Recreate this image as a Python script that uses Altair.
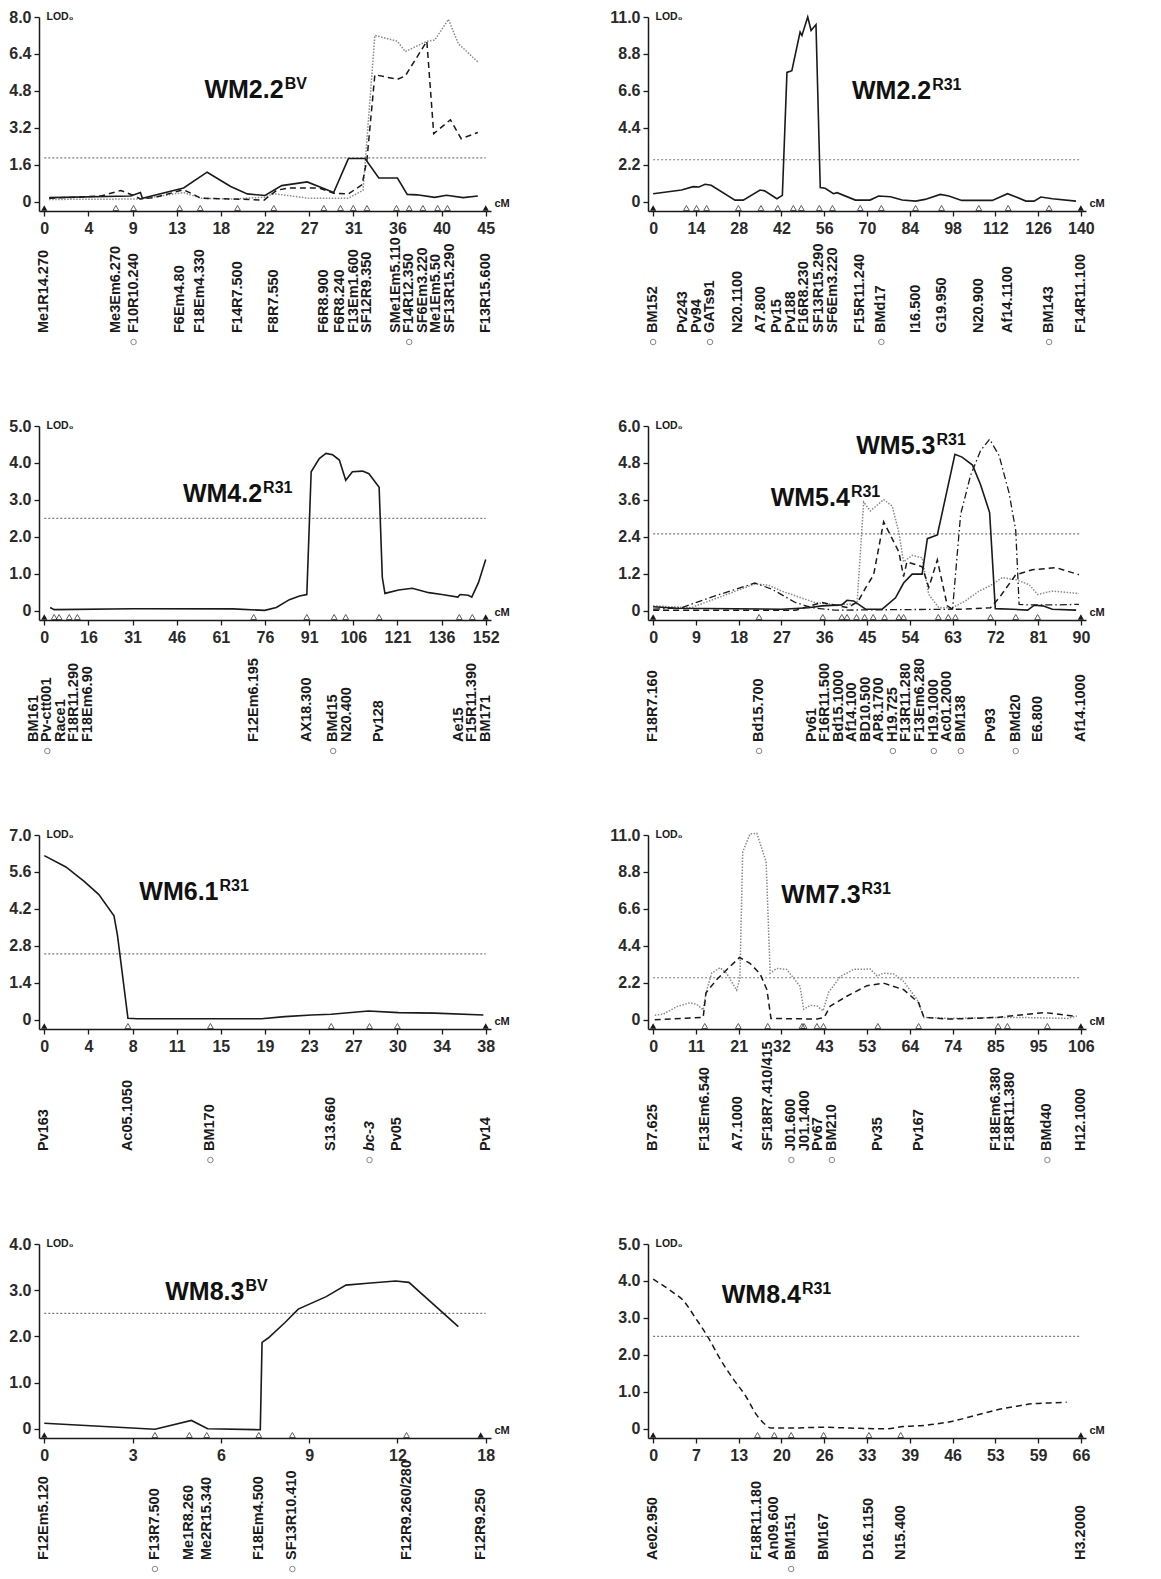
import altair as alt
import pandas as pd

FONT = "Liberation Sans"
INK = "#1a1a1a"

# ---------------- WM2.2 BV ----------------
p1_solid_x = [0.5, 8.8, 9.8, 10.0, 14.2, 16.6, 19.0, 20.7, 22.5, 24.2, 26.8, 29.5, 31.0, 32.7, 34.1, 36.0, 37.0, 38.0, 39.8, 41.0, 42.7, 44.2]
p1_solid_y = [0.18, 0.25, 0.40, 0.15, 0.60, 1.28, 0.66, 0.34, 0.27, 0.70, 0.86, 0.40, 1.87, 1.87, 1.03, 1.03, 0.32, 0.30, 0.19, 0.28, 0.18, 0.25]
p1_dash_x = [0.5, 5.8, 7.8, 9.2, 9.8, 11.2, 14.2, 16.0, 19.3, 22.4, 23.7, 25.0, 28.0, 29.5, 31.0, 32.4, 32.9, 33.7, 36.0, 36.8, 39.0, 39.7, 41.4, 42.5, 44.2]
p1_dash_y = [0.15, 0.25, 0.49, 0.25, 0.12, 0.18, 0.52, 0.15, 0.12, 0.07, 0.50, 0.60, 0.60, 0.37, 0.34, 0.74, 1.85, 5.50, 5.30, 5.45, 6.95, 2.95, 3.55, 2.73, 3.00]
p1_dot_x = [0.5, 9.8, 14.2, 16.0, 19.3, 22.5, 23.4, 27.0, 31.0, 32.5, 33.7, 36.0, 36.8, 39.0, 39.8, 41.2, 42.2, 44.2]
p1_dot_y = [0.10, 0.12, 0.40, 0.15, 0.12, 0.20, 0.35, 0.15, 0.15, 0.50, 7.20, 6.95, 6.50, 6.95, 7.00, 7.90, 6.85, 6.05]
p1_mk_pos = [0, 7.3, 9.1, 13.8, 15.9, 19.7, 23.4, 28.5, 30.2, 31.5, 32.9, 35.9, 37.2, 38.6, 40.1, 41.1, 45]
p1_mk_name = ["Me1R14.270", "Me3Em6.270", "F10R10.240", "F6Em4.80", "F18Em4.330", "F14R7.500", "F8R7.550", "F6R8.900", "F6R8.240", "F13Em1.600", "SF12R9.350", "SMe1Em5.110", "F14R12.350", "SF6Em3.220", "Me1Em5.50", "SF13R15.290", "F13R15.600"]
p1_circled = ["F10R10.240", "F14R12.350"]
p1_xlabels = ["0", "4", "9", "13", "18", "22", "27", "31", "36", "40", "45"]

# ---------------- WM2.2 R31 ----------------
p2_solid_x = [0, 9.3, 13.1, 15.0, 17.0, 19.0, 26.8, 29.5, 35.0, 36.5, 40.5, 42.3, 43.8, 45.4, 48.1, 48.7, 50.6, 51.7, 53.3, 54.7, 56.3, 59.0, 60.2, 66.2, 71.0, 73.8, 77.7, 81.5, 85.9, 89.0, 94.0, 96.8, 101.0, 111.0, 116.0, 118.6, 122.0, 124.7, 126.9, 130.7, 138.4]
p2_solid_y = [0.48, 0.70, 0.90, 0.88, 1.04, 0.98, 0.10, 0.10, 0.70, 0.65, 0.18, 0.38, 7.70, 7.80, 10.10, 9.90, 11.00, 10.20, 10.55, 0.84, 0.80, 0.48, 0.54, 0.10, 0.10, 0.34, 0.30, 0.10, 0.04, 0.14, 0.44, 0.34, 0.08, 0.08, 0.48, 0.30, 0.04, 0.04, 0.28, 0.18, 0.04]
p2_mk_pos = [0, 10.9, 14.2, 17.5, 27.9, 35.3, 40.8, 45.9, 48.5, 54.4, 58.7, 67.8, 74.7, 85.9, 94.4, 106.6, 116.2, 129.6, 140]
p2_mk_name = ["BM152", "Pv243", "Pv94", "GATs91", "N20.1100", "A7.800", "Pv15", "Pv188", "F16R8.230", "SF13R15.290", "SF6Em3.220", "F15R11.240", "BMd17", "I16.500", "G19.950", "N20.900", "Af14.1100", "BM143", "F14R11.100"]
p2_circled = ["BM152", "GATs91", "BMd17", "BM143"]
p2_xlabels = ["0", "14", "28", "42", "56", "70", "84", "98", "112", "126", "140"]

# ---------------- WM4.2 R31 ----------------
p3_solid_x = [2.0, 3.4, 30.8, 65.0, 75.9, 79.9, 84.4, 87.9, 90.4, 91.9, 94.7, 97.0, 99.3, 101.6, 103.8, 106.1, 109.6, 111.8, 115.3, 116.4, 117.3, 122.0, 126.7, 132.4, 136.9, 142.4, 143.2, 146.0, 147.2, 149.5, 152.0]
p3_solid_y = [0.09, 0.03, 0.055, 0.05, 0.01, 0.09, 0.30, 0.40, 0.44, 3.76, 4.12, 4.26, 4.22, 4.08, 3.53, 3.76, 3.78, 3.71, 3.34, 0.90, 0.47, 0.56, 0.61, 0.49, 0.44, 0.37, 0.44, 0.42, 0.37, 0.76, 1.39]
p3_mk_pos = [0, 3.4, 5.1, 8.6, 11.4, 72.1, 90.4, 99.8, 103.8, 115.3, 142.9, 147.4, 152]
p3_mk_name = ["BM161", "Pv-ctt001", "Race1", "F18R11.290", "F18Em6.90", "F12Em6.195", "AX18.300", "BMd15", "N20.400", "Pv128", "Ae15", "F15R11.390", "BM171"]
p3_circled = ["Pv-ctt001", "BMd15"]
p3_xlabels = ["0", "16", "31", "46", "61", "76", "91", "106", "121", "136", "152"]

# ---------------- WM5.3 / WM5.4 R31 ----------------
p4_solid_x = [0, 5, 27, 32.7, 35.5, 39.7, 40.8, 42.2, 44.7, 48.2, 51.0, 52.7, 54.5, 56.6, 57.7, 59.8, 63.5, 65.0, 67.2, 68.9, 70.8, 72.0, 75.6, 78.8, 80.2, 82.0, 84.0, 89.0]
p4_solid_y = [0.13, 0.08, 0.05, 0.10, 0.16, 0.19, 0.34, 0.32, 0.05, 0.05, 0.42, 0.90, 1.19, 1.19, 2.34, 2.46, 5.08, 4.99, 4.73, 4.09, 3.19, 0.07, 0.05, 0.02, 0.18, 0.16, 0.05, 0.02]
p4_dash_x = [0, 30, 35.5, 41.0, 43.2, 44.7, 46.4, 48.5, 51.7, 52.7, 53.4, 56.6, 58.0, 59.8, 61.9, 63.0, 65.0, 71.0, 72.8, 76.3, 79.8, 84.8, 89.6]
p4_dash_y = [0.02, 0.02, 0.27, 0.10, 0.32, 0.74, 1.17, 2.89, 1.91, 1.11, 1.59, 1.43, 0.76, 1.65, 0.16, 0.05, 0.05, 0.10, 0.42, 1.17, 1.33, 1.40, 1.17]
p4_dot_x = [0, 8.0, 21.4, 24.3, 27.0, 34.0, 38.3, 42.9, 44.3, 45.7, 48.5, 50.3, 51.7, 52.7, 54.5, 56.6, 58.0, 60.1, 63.0, 65.7, 68.6, 71.0, 73.5, 76.3, 79.1, 80.9, 84.0, 89.6]
p4_dot_y = [0.16, 0.10, 0.87, 0.83, 0.64, 0.27, 0.19, 0.23, 3.53, 3.24, 3.61, 3.40, 2.55, 1.59, 1.80, 1.72, 0.53, 0.10, 0.10, 0.32, 0.64, 0.82, 1.08, 1.01, 0.85, 0.53, 0.64, 0.56]
p4_dd_x = [0, 6.0, 13.0, 21.4, 25.0, 29.9, 33.4, 38.3, 63.0, 64.7, 66.8, 68.9, 70.8, 72.8, 74.9, 76.3, 77.0, 78.4, 84.8, 89.6]
p4_dd_y = [0.05, 0.10, 0.48, 0.90, 0.70, 0.27, 0.10, 0.02, 0.05, 3.13, 4.40, 5.20, 5.57, 5.04, 3.82, 2.60, 0.21, 0.19, 0.19, 0.21]
p4_mk_pos = [0, 22.3, 35.7, 39.7, 40.8, 42.8, 44.5, 46.3, 48.7, 51.7, 52.7, 60, 62.1, 63.6, 71, 76.3, 80.9, 90]
p4_mk_name = ["F18R7.160", "Bd15.700", "Pv61", "F16R11.500", "Bd15.1000", "Af14.100", "BD10.500", "AP8.1700", "H19.725", "F13R11.280", "F13Em6.280", "H19.1000", "Ac01.2000", "BM138", "Pv93", "BMd20", "E6.800", "Af14.1000"]
p4_circled = ["Bd15.700", "H19.725", "H19.1000", "BM138", "BMd20"]
p4_xlabels = ["0", "9", "18", "27", "36", "45", "54", "63", "72", "81", "90"]

# ---------------- WM6.1 R31 ----------------
p5_solid_x = [0, 1.86, 3.43, 4.7, 6.0, 6.3, 7.2, 8.0, 18.7, 20.7, 23.0, 24.7, 27.9, 30.5, 33.6, 37.8]
p5_solid_y = [6.22, 5.79, 5.24, 4.74, 3.94, 3.20, 0.06, 0.04, 0.04, 0.12, 0.18, 0.21, 0.33, 0.27, 0.25, 0.18]
p5_mk_pos = [0, 7.2, 14.3, 24.7, 28, 30.4, 38]
p5_mk_name = ["Pv163", "Ac05.1050", "BM170", "S13.660", "bc-3", "Pv05", "Pv14"]
p5_circled = ["BM170", "bc-3"]
p5_italic = ["bc-3"]
p5_xlabels = ["0", "4", "8", "11", "15", "19", "23", "27", "30", "34", "38"]

# ---------------- WM7.3 R31 ----------------
p6_dot_x = [0.4, 2.5, 5.8, 9.1, 10.8, 12.4, 13.1, 14.5, 16.6, 18.2, 20.7, 21.5, 22.2, 24.0, 25.7, 28.0, 29.0, 30.6, 33.1, 36.4, 37.3, 38.9, 40.6, 42.1, 43.5, 46.4, 49.7, 53.8, 55.5, 57.1, 59.6, 62.1, 65.4, 67.1, 73.7, 86.1, 90.3, 102.7, 105.0]
p6_dot_y = [0.27, 0.33, 0.78, 1.01, 0.92, 0.59, 1.60, 2.77, 3.10, 2.77, 1.76, 2.48, 9.99, 11.06, 11.10, 9.40, 2.77, 3.06, 3.00, 1.99, 0.62, 0.86, 0.82, 0.53, 1.64, 2.57, 3.00, 3.02, 2.61, 2.77, 2.73, 2.28, 1.21, 0.14, 0.08, 0.14, 0.14, 0.08, 0.23]
p6_dash_x = [0.4, 12.4, 13.1, 15.7, 19.0, 21.4, 24.0, 26.5, 28.2, 29.2, 40.6, 42.4, 43.9, 48.0, 53.0, 57.1, 62.1, 65.8, 67.1, 73.7, 85.3, 90.3, 96.9, 105.0]
p6_dash_y = [0.00, 0.14, 1.60, 2.38, 3.16, 3.71, 3.36, 2.73, 1.79, 0.08, 0.04, 0.14, 0.82, 1.40, 2.03, 2.18, 1.79, 1.01, 0.14, 0.04, 0.14, 0.27, 0.43, 0.20]
p6_mk_pos = [0, 12.8, 21.1, 28.4, 36.9, 37.4, 40.6, 42.2, 55.7, 65.8, 85.5, 87.8, 97.7, 106]
p6_mk_name = ["B7.625", "F13Em6.540", "A7.1000", "SF18R7.410/415", "J01.600", "J01.1400", "Pv67", "BM210", "Pv35", "Pv167", "F18Em6.380", "F18R11.380", "BMd40", "H12.1000"]
p6_circled = ["J01.600", "BM210", "BMd40"]
p6_xlabels = ["0", "11", "21", "32", "43", "53", "64", "74", "85", "95", "106"]

# ---------------- WM8.3 BV ----------------
p7_solid_x = [0, 3.76, 5.0, 5.55, 7.34, 7.40, 7.62, 8.18, 8.63, 9.58, 10.25, 10.99, 11.94, 12.39, 14.07]
p7_solid_y = [0.12, -0.01, 0.18, 0.0, -0.02, 1.87, 1.97, 2.30, 2.59, 2.86, 3.11, 3.15, 3.20, 3.17, 2.21]
p7_mk_pos = [0, 3.76, 4.93, 5.52, 7.29, 8.43, 12.31, 14.83]
p7_mk_name = ["F12Em5.120", "F13R7.500", "Me1R8.260", "Me2R15.340", "F18Em4.500", "SF13R10.410", "F12R9.260/280", "F12R9.250"]
p7_circled = ["F13R7.500", "SF13R10.410"]
p7_xlabels = ["0", "3", "6", "9", "12", "18"]

# ---------------- WM8.4 R31 ----------------
p8_dash_x = [0, 3.0, 4.5, 6.6, 8.4, 10.2, 12.3, 14.3, 15.9, 17.2, 18.2, 21.0, 26.2, 30.3, 36.0, 38.6, 41.7, 45.8, 49.9, 53.0, 56.1, 58.7, 61.3, 63.8]
p8_dash_y = [4.05, 3.70, 3.50, 2.98, 2.50, 1.93, 1.36, 0.88, 0.39, 0.13, 0.02, 0.02, 0.04, 0.02, 0.00, 0.06, 0.09, 0.19, 0.37, 0.51, 0.61, 0.68, 0.70, 0.72]
p8_mk_pos = [0, 16.1, 18.7, 21.3, 26.3, 33.3, 38.2, 66]
p8_mk_name = ["Ae02.950", "F18R11.180", "An09.600", "BM151", "BM167", "D16.1150", "N15.400", "H3.2000"]
p8_circled = ["BM151"]
p8_xlabels = ["0", "7", "13", "20", "26", "33", "39", "46", "53", "59", "66"]

STYLES = {
    "solid": dict(color=INK, strokeWidth=1.6),
    "dashed": dict(color=INK, strokeWidth=1.5, strokeDash=[6, 4]),
    "dotted": dict(color="#8a8a8a", strokeWidth=1.5, strokeDash=[1.5, 1.5]),
    "dashdot": dict(color=INK, strokeWidth=1.3, strokeDash=[7, 3, 1.5, 3]),
}

PANELS = [
    dict(xmax=45, xstep=4.5, xlabels=p1_xlabels, ymax=8.0, ystep=1.6, thr=1.9,
         curves=[("dotted", p1_dot_x, p1_dot_y), ("dashed", p1_dash_x, p1_dash_y), ("solid", p1_solid_x, p1_solid_y)],
         mk=p1_mk_pos, names=p1_mk_name, circ=p1_circled, ital=[],
         titles=[("WM2.2", "BV", 24.4, 4.5)]),
    dict(xmax=140, xstep=14, xlabels=p2_xlabels, ymax=11.0, ystep=2.2, thr=2.5,
         curves=[("solid", p2_solid_x, p2_solid_y)],
         mk=p2_mk_pos, names=p2_mk_name, circ=p2_circled, ital=[],
         titles=[("WM2.2", "R31", 91.0, 6.1)]),
    dict(xmax=152, xstep=15.2, xlabels=p3_xlabels, ymax=5.0, ystep=1.0, thr=2.5,
         curves=[("solid", p3_solid_x, p3_solid_y)],
         mk=p3_mk_pos, names=p3_mk_name, circ=p3_circled, ital=[],
         titles=[("WM4.2", "R31", 75.0, 2.93)]),
    dict(xmax=90, xstep=9, xlabels=p4_xlabels, ymax=6.0, ystep=1.2, thr=2.5,
         curves=[("dotted", p4_dot_x, p4_dot_y), ("dashdot", p4_dd_x, p4_dd_y), ("dashed", p4_dash_x, p4_dash_y), ("solid", p4_solid_x, p4_solid_y)],
         mk=p4_mk_pos, names=p4_mk_name, circ=p4_circled, ital=[],
         titles=[("WM5.3", "R31", 59.4, 5.08), ("WM5.4", "R31", 41.4, 3.4)]),
    dict(xmax=38, xstep=3.8, xlabels=p5_xlabels, ymax=7.0, ystep=1.4, thr=2.5,
         curves=[("solid", p5_solid_x, p5_solid_y)],
         mk=p5_mk_pos, names=p5_mk_name, circ=p5_circled, ital=p5_italic,
         titles=[("WM6.1", "R31", 15.0, 4.55)]),
    dict(xmax=106, xstep=10.6, xlabels=p6_xlabels, ymax=11.0, ystep=2.2, thr=2.5,
         curves=[("dotted", p6_dot_x, p6_dot_y), ("dashed", p6_dash_x, p6_dash_y)],
         mk=p6_mk_pos, names=p6_mk_name, circ=p6_circled, ital=[],
         titles=[("WM7.3", "R31", 51.4, 6.96)]),
    dict(xmax=15, xstep=3, xlabels=p7_xlabels, ymax=4.0, ystep=1.0, thr=2.5,
         curves=[("solid", p7_solid_x, p7_solid_y)],
         mk=p7_mk_pos, names=p7_mk_name, circ=p7_circled, ital=[],
         titles=[("WM8.3", "BV", 6.8, 2.78)]),
    dict(xmax=66, xstep=6.6, xlabels=p8_xlabels, ymax=5.0, ystep=1.0, thr=2.5,
         curves=[("dashed", p8_dash_x, p8_dash_y)], interp="monotone",
         mk=p8_mk_pos, names=p8_mk_name, circ=p8_circled, ital=[],
         titles=[("WM8.4", "R31", 22.8, 3.4)]),
]

H = 194
W_LEFT, W_RIGHT = 452, 438
GAP = 13.5


def repel(px, gap):
    clusters = [{"orig": [p], "start": p} for p in px]
    while True:
        merged = False
        out = []
        for c in clusters:
            if out and out[-1]["start"] + len(out[-1]["orig"]) * gap > c["start"]:
                o = out[-1]["orig"] + c["orig"]
                n = len(o)
                out[-1] = {"orig": o, "start": sum(o) / n - (n - 1) * gap / 2}
                merged = True
            else:
                out.append(c)
        clusters = out
        if not merged:
            break
    res = []
    for c in clusters:
        for i in range(len(c["orig"])):
            res.append(c["start"] + i * gap)
    return res


def panel(cfg, W):
    xmax, ymax = cfg["xmax"], cfg["ymax"]
    xd = [-0.012 * xmax, 1.012 * xmax]
    yd = [-0.05 * ymax, ymax]
    xvals = [round(i * cfg["xstep"], 4) for i in range(len(cfg["xlabels"]))]
    yvals = [round(i * cfg["ystep"], 4) for i in range(int(round(ymax / cfg["ystep"])) + 1)]
    arr = "[" + ",".join("'%s'" % s for s in cfg["xlabels"]) + "]"
    xaxis = alt.Axis(values=xvals, labelExpr=f"{arr}[round(datum.value/{cfg['xstep']})]",
                     title="cM", titleX=W + 3, titleY=-3, titleAlign="left", titleBaseline="bottom",
                     titleAngle=0, titleFontSize=11, titleFont=FONT, titleFontWeight="bold", titleColor=INK,
                     labelFlush=False, labelOverlap=False, labelPadding=4)
    yaxis = alt.Axis(values=yvals, labelExpr="datum.value == 0 ? '0' : format(datum.value, '.1f')",
                     title="LOD₀", titleAngle=0, titleX=7, titleY=-1, titleAlign="left", titleBaseline="middle",
                     titleFontSize=10.5, titleFont=FONT, titleFontWeight="bold", titleColor=INK,
                     labelPadding=3, labelOverlap=False)
    X = alt.X("x:Q", scale=alt.Scale(domain=xd, nice=False, zero=False), axis=xaxis)
    Y = alt.Y("y:Q", scale=alt.Scale(domain=yd, nice=False, zero=False), axis=yaxis)

    layers = []
    thr = pd.DataFrame({"x": [0, xmax], "y": [cfg["thr"], cfg["thr"]]})
    layers.append(alt.Chart(thr).mark_line(color="#7a7a7a", strokeWidth=1.2, strokeDash=[2, 2]).encode(X, Y))
    for style, xs, ys in cfg["curves"]:
        df = pd.DataFrame({"x": xs, "y": ys})
        layers.append(alt.Chart(df).mark_line(interpolate=cfg.get("interp", "linear"), **STYLES[style]).encode(X, Y))

    n = len(cfg["mk"])
    mk = pd.DataFrame({"x": cfg["mk"], "y": [yd[0]] * n,
                       "end": [i == 0 or i == n - 1 for i in range(n)]})
    layers.append(alt.Chart(mk).transform_filter("!datum.end").mark_point(
        shape="triangle-up", filled=False, size=34, strokeWidth=1, color=INK, yOffset=-3).encode(X, Y))
    layers.append(alt.Chart(mk).transform_filter("datum.end").mark_point(
        shape="triangle-up", filled=True, size=38, color=INK, opacity=1, yOffset=-3).encode(X, Y))

    span = xd[1] - xd[0]
    px = [(v - xd[0]) / span * W for v in cfg["mk"]]
    lpx = repel(px, GAP)
    lab = pd.DataFrame({"x": [xd[0] + p / W * span for p in lpx], "name": cfg["names"],
                        "circ": [nm in cfg["circ"] for nm in cfg["names"]],
                        "ital": [nm in cfg["ital"] for nm in cfg["names"]]})
    txt = dict(angle=270, align="left", baseline="middle", font=FONT, fontWeight="bold", fontSize=14.5, color=INK)
    layers.append(alt.Chart(lab).transform_filter("!datum.ital").mark_text(**txt).encode(
        x=X, y=alt.value(H + 122), text="name:N"))
    if cfg["ital"]:
        layers.append(alt.Chart(lab).transform_filter("datum.ital").mark_text(fontStyle="italic", **txt).encode(
            x=X, y=alt.value(H + 122), text="name:N"))
    layers.append(alt.Chart(lab).transform_filter("datum.circ").mark_point(
        shape="circle", filled=False, size=30, strokeWidth=1, color="#555").encode(x=X, y=alt.value(H + 131)))

    tdf = pd.DataFrame({"x": [t[2] for t in cfg["titles"]], "y": [t[3] for t in cfg["titles"]],
                        "main": [t[0] for t in cfg["titles"]], "sup": [t[1] for t in cfg["titles"]]})
    layers.append(alt.Chart(tdf).mark_text(align="right", baseline="alphabetic", font=FONT, fontWeight="bold",
                                           fontSize=25, color="#111").encode(X, Y, text="main:N"))
    layers.append(alt.Chart(tdf).mark_text(align="left", baseline="alphabetic", font=FONT, fontWeight="bold",
                                           fontSize=16, color="#111", dx=1, dy=-9).encode(X, Y, text="sup:N"))
    return alt.layer(*layers).properties(width=W, height=H)


panels = [panel(cfg, W_LEFT if k % 2 == 0 else W_RIGHT) for k, cfg in enumerate(PANELS)]

chart = alt.concat(*panels, columns=2, spacing={"row": 215, "column": 157}, bounds="flush").properties(
    padding={"left": 0, "top": 1, "right": 0, "bottom": 0}
).configure_view(stroke=None).configure_axis(
    domainColor=INK, domainWidth=1.5, tickColor=INK, tickWidth=1.3, tickSize=5,
    labelFont=FONT, labelFontWeight="bold", labelFontSize=16, labelColor="#2a2a2a", grid=False
)

chart.save("out.html", embed_options={"renderer": "svg", "actions": False})
